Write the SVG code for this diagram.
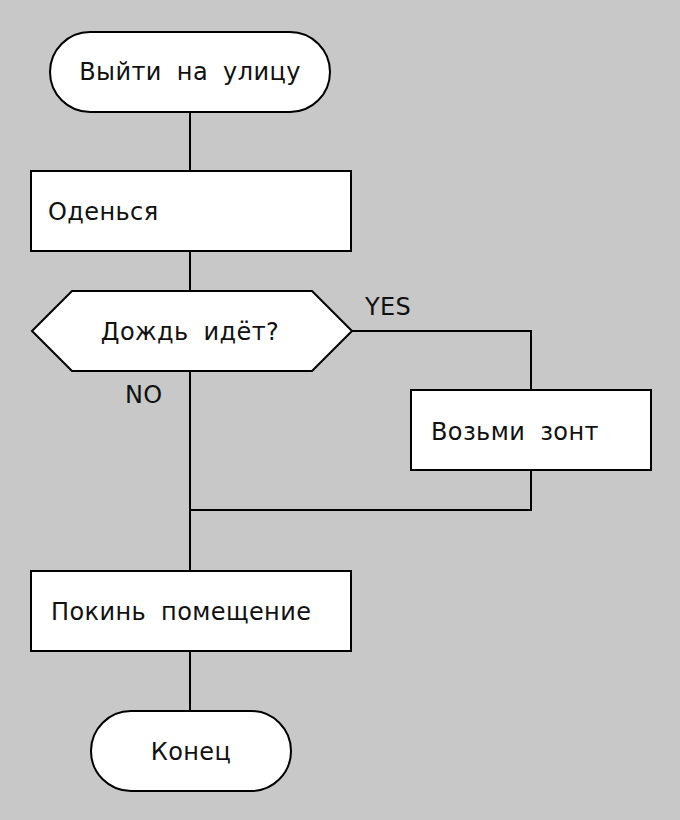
<svg xmlns="http://www.w3.org/2000/svg" width="680" height="820" viewBox="0 0 680 820">
<style>
.s{fill:#fff;stroke:#000;stroke-width:2}
.c{fill:none;stroke:#000;stroke-width:2}
text{font-family:"DejaVu Sans",Verdana,sans-serif;font-size:24px;fill:#111;letter-spacing:0.4px;word-spacing:7px}
.m{text-anchor:middle}
</style>
<rect width="680" height="820" fill="#c8c8c8"/>
<g id="connectors">
<path class="c" d="M190,112V171M190,251V291M190,371V571M352,331H531V390M531,470V510H190M190,651V711"/>
</g>
<g id="start"><rect class="s" x="50" y="32" width="280" height="80" rx="40"/><text class="m" x="190" y="80">Выйти на улицу</text></g>
<g id="dress"><rect class="s" x="31" y="171" width="320" height="80"/><text x="48" y="220">Оденься</text></g>
<g id="rain"><polygon class="s" points="32,331 72,291 312,291 352,331 312,371 72,371"/><text class="m" x="190" y="340">Дождь идёт?</text></g>
<text x="365" y="315">YES</text>
<text x="125" y="403">NO</text>
<g id="umbrella"><rect class="s" x="411" y="390" width="240" height="80"/><text x="431" y="440">Возьми зонт</text></g>
<g id="leave"><rect class="s" x="31" y="571" width="320" height="80"/><text x="51" y="620">Покинь помещение</text></g>
<g id="end"><rect class="s" x="91" y="711" width="200" height="80" rx="40"/><text class="m" x="191" y="760">Конец</text></g>
</svg>
